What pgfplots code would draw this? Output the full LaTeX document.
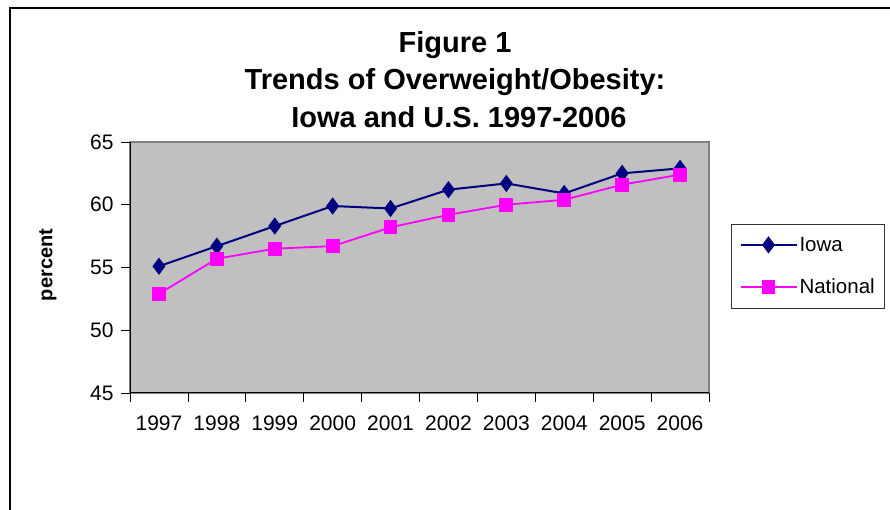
\documentclass[border=0pt]{standalone}
\usepackage{pgfplots}
\pgfplotsset{compat=1.18}
\usepackage{fontspec}
\setmainfont{Liberation Sans}

\definecolor{iowablue}{HTML}{000080}
\definecolor{natpink}{HTML}{FF00FF}
\definecolor{plotgray}{HTML}{C0C0C0}
\definecolor{framegray}{HTML}{808080}

\begin{document}
\begin{tikzpicture}[x=1pt,y=1pt]
\begin{axis}[
    scale only axis,
    width=579pt,
    height=251pt,
    xmin=-0.5, xmax=9.5,
    ymin=45, ymax=65,
    ytick={45,50,55,60,65},
    xtick={-0.5,0.5,...,9.5},
    xticklabels={},
    extra x ticks={0,1,...,9},
    extra x tick labels={1997,1998,1999,2000,2001,2002,2003,2004,2005,2006},
    extra x tick style={major tick length=0pt},
    axis lines=left,
    axis line style={-, line width=1pt, black},
    axis background/.style={fill=plotgray, draw=framegray, line width=1.2pt},
    tick align=outside,
    major tick length=9pt,
    tick style={black, line width=0.8pt},
    tick label style={font=\fontsize{21}{25}\selectfont},
    /pgf/number format/assume math mode=true,
    yticklabel style={xshift=-4pt},
    xticklabel style={yshift=-19pt},
    ylabel={percent},
    every axis y label/.style={at={(rel axis cs:-0.1416,0.51)}, rotate=90, anchor=center, font=\bfseries\fontsize{20}{24}\selectfont},
    legend style={at={(1.038,0.675)}, anchor=north west, draw=black!80, line width=1pt,
        font=\fontsize{20.5}{24}\selectfont, inner xsep=8pt, inner ysep=11pt,
        row sep=22pt, fill=white},
    legend cell align=left,
    legend image code/.code={\draw[mark repeat=2,mark phase=2] plot coordinates {(0pt,0pt) (28pt,0pt) (56pt,0pt)};},
    clip=false,
]
\addplot[color=iowablue, line width=2pt, mark=diamond*, mark size=7pt, mark options={solid, fill=iowablue}] coordinates {
    (0,55.1) (1,56.7) (2,58.3) (3,59.9) (4,59.7)
    (5,61.2) (6,61.7) (7,60.9) (8,62.5) (9,62.9)
};
\addlegendentry{Iowa}
\addplot[color=natpink, line width=1.8pt, mark=square*, mark size=6pt, mark options={solid, fill=natpink}] coordinates {
    (0,52.9) (1,55.7) (2,56.5) (3,56.7) (4,58.2)
    (5,59.2) (6,60.0) (7,60.4) (8,61.6) (9,62.4)
};
\addlegendentry{National}
\coordinate (O) at (rel axis cs:0,0);
\end{axis}
% everything else is placed relative to the lower left corner of the plot area
\begin{scope}[shift={(O)}, shift={(-130,-117)}]
\draw[line width=1.6pt] (10,0) -- (10,502) -- (890,502);
\node[font=\bfseries\fontsize{29}{34}\selectfont] at (455,465) {Figure 1};
\node[font=\bfseries\fontsize{29}{34}\selectfont] at (455,428) {Trends of Overweight/Obesity:};
\node[font=\bfseries\fontsize{29}{34}\selectfont] at (459,393) {Iowa and U.S. 1997-2006};
\pgfresetboundingbox
\path[use as bounding box] (0,0) rectangle (890,510);
\end{scope}
\end{tikzpicture}
\end{document}
